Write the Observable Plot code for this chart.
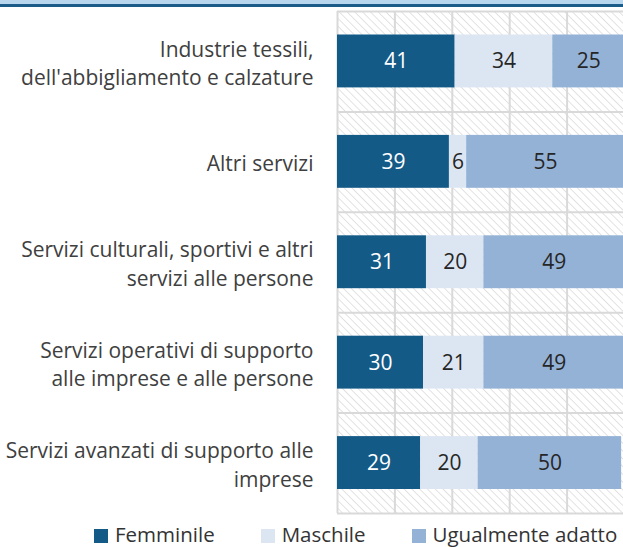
<!DOCTYPE html>
<html>
<head>
<meta charset="utf-8">
<script src="https://cdn.jsdelivr.net/npm/d3@7"></script>
<script src="https://cdn.jsdelivr.net/npm/@observablehq/plot@0.6"></script>
<style>
  html, body { margin: 0; padding: 0; background: #fff; }
  body { width: 623px; height: 547px; overflow: hidden; position: relative; font-family: "Open Sans", sans-serif; }
  #topband { position: absolute; left: 0; top: 0; width: 623px; height: 4px; background: #b8d6ee; }
  #topline { position: absolute; left: 0; top: 4px; width: 623px; height: 3px; background: #1b5c8a; }
  #chart svg { display: block; }
  #legend { position: absolute; left: 0; top: 524px; height: 20px; line-height: 20px; display: flex; align-items: center; padding-left: 94px; gap: 46px; font-size: 20.5px; color: #333; white-space: nowrap; }
  .item { display: flex; align-items: center; gap: 7px; height: 20px; }
  .sw { width: 14px; height: 14px; display: inline-block; position: relative; top: 2px; }
</style>
</head>
<body>
<div id="chart"></div>
<div id="topband"></div>
<div id="topline"></div>
<div id="legend"></div>
<script>
const categories = [
  "Industrie tessili,\ndell'abbigliamento e calzature",
  "Altri servizi",
  "Servizi culturali, sportivi e altri\nservizi alle persone",
  "Servizi operativi di supporto\nalle imprese e alle persone",
  "Servizi avanzati di supporto alle\nimprese"
];
const series = ["Femminile", "Maschile", "Ugualmente adatto"];
const femminile = [41, 39, 31, 30, 29];
const maschile = [34, 6, 20, 21, 20];
const ugualmente = [25, 55, 49, 49, 50];
const xTicks = [0, 20, 40, 60, 80, 100];
const colors = ["#135a87", "#dce6f2", "#94b2d6"];

const seriesValues = [femminile, maschile, ugualmente];
const rows = [];
categories.forEach((c, i) => {
  series.forEach((s, j) => rows.push({cat: c, i, series: s, value: seriesValues[j][i]}));
});
const catRows = categories.map((c, i) => ({cat: c, i}));
const bounds = d3.range(categories.length + 1);

const plot = Plot.plot({
  width: 623,
  height: 518,
  marginTop: 11,
  marginBottom: 5,
  marginLeft: 337,
  marginRight: 0,
  style: {fontFamily: "'Open Sans', sans-serif", background: "transparent"},
  x: {domain: [0, 100], range: [337, 624], axis: null},
  y: {domain: [0, categories.length], range: [11, 513], axis: null},
  color: {domain: series, range: colors},
  marks: [
    Plot.frame({fill: "url(#hatch)", stroke: "none"}),
    Plot.ruleX(xTicks, {stroke: "#d9d9d9", strokeWidth: 2}),
    Plot.ruleY(bounds, {stroke: "#d9d9d9", strokeWidth: 2}),
    Plot.rectX(rows, {x: "value", y: "i", interval: 1, fill: "series", insetTop: 23.5, insetBottom: 24}),
    Plot.text(rows, Plot.stackX({
      x: "value", y: d => d.i + 0.5,
      text: d => d.series === "Femminile" ? String(d.value) : null,
      fill: "white", fontSize: 21
    })),
    Plot.text(rows, Plot.stackX({
      x: "value", y: d => d.i + 0.5,
      text: d => d.series !== "Femminile" ? String(d.value) : null,
      fill: "#262626", fontSize: 21
    })),
    Plot.text(catRows, {
      x: 0, y: d => d.i + 0.5, text: "cat",
      textAnchor: "end", dx: -24, lineHeight: 1.35,
      fill: "#404040", fontSize: 21
    })
  ]
});

// hatch pattern definition
const ns = "http://www.w3.org/2000/svg";
const defs = document.createElementNS(ns, "defs");
defs.innerHTML = `<pattern id="hatch" patternUnits="userSpaceOnUse" width="5.5" height="5.5" patternTransform="rotate(-45)">
  <rect width="5.5" height="5.5" fill="#ffffff"/>
  <line x1="0" y1="0" x2="0" y2="5.5" stroke="#d4d4d4" stroke-width="1.3"/>
</pattern>`;
plot.insertBefore(defs, plot.firstChild);
document.getElementById("chart").appendChild(plot);

const legend = document.getElementById("legend");
series.forEach((s, j) => {
  const item = document.createElement("div");
  item.className = "item";
  item.innerHTML = `<span class="sw" style="background:${colors[j]}"></span><span>${s}</span>`;
  legend.appendChild(item);
});
</script>
</body>
</html>
